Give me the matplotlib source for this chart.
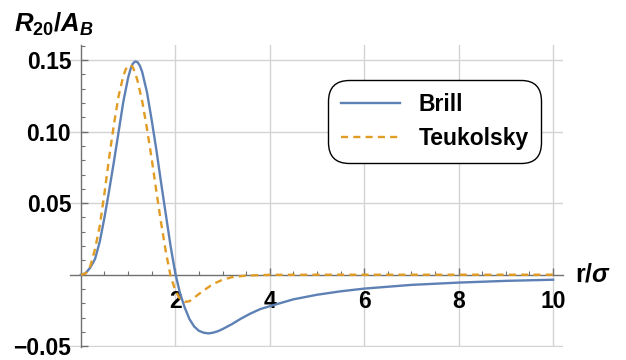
import matplotlib.pyplot as plt
from matplotlib.ticker import MultipleLocator, FixedLocator
import numpy as np

plt.rcParams['font.family'] = ['Liberation Sans', 'DejaVu Sans']
plt.rcParams['font.weight'] = 'bold'
plt.rcParams['mathtext.fontset'] = 'custom'
plt.rcParams['mathtext.rm'] = 'Liberation Sans:bold'
plt.rcParams['mathtext.it'] = 'Liberation Sans:bold:italic'
plt.rcParams['mathtext.bf'] = 'Liberation Sans:bold'

# %% ----------- data -------------
r_brill = [0.0, 0.1, 0.2, 0.3, 0.4, 0.5, 0.6, 0.7, 0.8, 0.9, 1.0, 1.05, 1.1,
           1.15, 1.2, 1.25, 1.3, 1.4, 1.5, 1.6, 1.7, 1.8, 1.9, 2.0, 2.1, 2.2,
           2.3, 2.4, 2.5, 2.6, 2.7, 2.8, 2.9, 3.0, 3.2, 3.4, 3.6, 3.8, 4.0, 4.5,
           5.0, 5.5, 6.0, 7.0, 8.0, 9.0, 10.0]
R_brill = [0.0, 0.001, 0.005, 0.011, 0.023, 0.040, 0.059, 0.079, 0.100, 0.121,
           0.1375, 0.1435, 0.1475, 0.149, 0.1485, 0.146, 0.1415, 0.1275, 0.108,
           0.087, 0.064, 0.042, 0.020, 0.001, -0.013, -0.023, -0.031, -0.0362,
           -0.0392, -0.0405, -0.041, -0.0405, -0.0395, -0.038, -0.0345, -0.0305,
           -0.027, -0.024, -0.022, -0.0172, -0.014, -0.0116, -0.0097, -0.0071,
           -0.0055, -0.0043, -0.0035]

r_teuk = [0.0, 0.1, 0.2, 0.3, 0.4, 0.5, 0.6, 0.7, 0.8, 0.9, 0.95, 1.0, 1.05,
          1.1, 1.15, 1.2, 1.3, 1.4, 1.5, 1.6, 1.7, 1.8, 1.9, 2.0, 2.1, 2.2,
          2.3, 2.4, 2.6, 2.8, 3.0, 3.2, 3.5, 4.0, 5.0, 10.0]
R_teuk = [0.0, 0.0008, 0.006, 0.018, 0.034, 0.057, 0.082, 0.105, 0.125, 0.139,
          0.1435, 0.146, 0.1465, 0.145, 0.141, 0.1355, 0.121, 0.102, 0.081,
          0.058, 0.036, 0.016, -0.001, -0.011, -0.017, -0.019, -0.0185, -0.016,
          -0.011, -0.0065, -0.0035, -0.0017, -0.0006, -0.0001, 0.0, 0.0]

x_major = [2, 4, 6, 8, 10]
y_major = [-0.05, 0.05, 0.10, 0.15]
y_labels = ['\u22120.05', '0.05', '0.10', '0.15']

blue = '#5E81B5'
orange = '#E19C24'
axis_gray = '#707070'

# %% ----------- plot -------------
fig = plt.figure(figsize=(6.26, 3.6), dpi=100)
ax = fig.add_axes([70 / 626, 13 / 360, 493 / 626, 302 / 360])

ax.plot(r_brill, R_brill, color=blue, lw=1.7, label='Brill', zorder=3)
ax.plot(r_teuk, R_teuk, color=orange, lw=1.7, ls=(0, (3.0, 2.2)),
        label='Teukolsky', zorder=3)

ax.set_xlim(-0.23, 10.21)
ax.set_ylim(-0.0505, 0.1605)

# axes through the origin
for s in ['top', 'right']:
    ax.spines[s].set_visible(False)
ax.spines['left'].set_position(('data', 0))
ax.spines['bottom'].set_position(('data', 0))
for s in ['left', 'bottom']:
    ax.spines[s].set_color(axis_gray)
    ax.spines[s].set_linewidth(1.0)

ax.xaxis.set_major_locator(FixedLocator(x_major))
ax.xaxis.set_minor_locator(MultipleLocator(0.5))
ax.yaxis.set_major_locator(FixedLocator(y_major))
ax.yaxis.set_minor_locator(MultipleLocator(0.01))
ax.set_yticklabels(y_labels)

ax.tick_params(axis='both', which='both', direction='in', color=axis_gray,
               labelsize=16.5)
ax.tick_params(axis='both', which='major', length=5, width=1)
ax.tick_params(axis='both', which='minor', length=3, width=0.8)
ax.tick_params(axis='x', which='major', pad=11)
ax.tick_params(axis='y', which='major', pad=7)
for lab in ax.get_xticklabels() + ax.get_yticklabels():
    lab.set_fontweight('bold')

ax.grid(True, which='major', color='#d3d3d3', lw=1.0, zorder=0)

# axis labels
fig.text(14 / 626, 1 - 24 / 360, r'$R_{\mathrm{20}}/A_B$', fontsize=18.5,
         ha='left', va='center')
ax.text(10.47, 0.0, r'$\mathrm{r}/\sigma$', fontsize=18, ha='left',
        va='center', clip_on=False)

leg = ax.legend(loc='upper left', bbox_to_anchor=(328 / 626, 1 - 80 / 360),
                bbox_transform=fig.transFigure, fancybox=True, framealpha=1,
                edgecolor='black', prop={'weight': 'bold', 'size': 16.5},
                handlelength=2.6, handletextpad=0.8, borderpad=0.55,
                labelspacing=0.5, borderaxespad=0)
leg.get_frame().set_linewidth(1.0)
leg.get_frame().set_boxstyle('round', pad=0, rounding_size=0.9)

fig.savefig('out.png', dpi=100)
